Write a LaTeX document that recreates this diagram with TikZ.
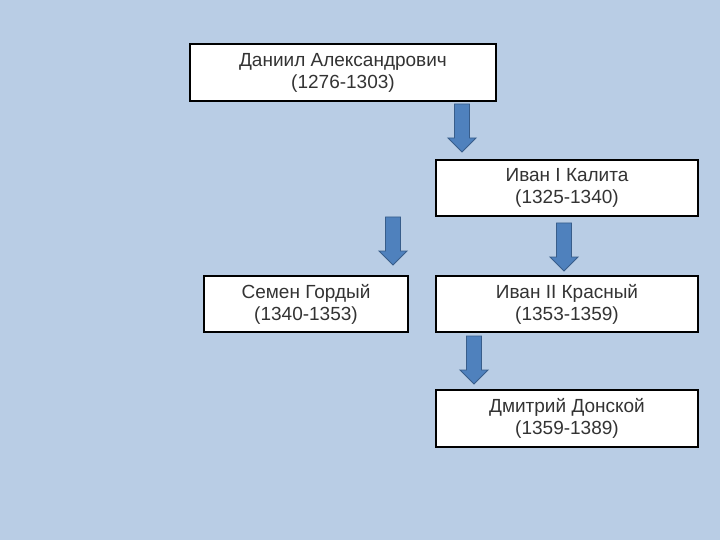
\documentclass[tikz,border=0pt]{standalone}
\usepackage{fontspec}
\setmainfont{Liberation Sans}
\definecolor{bgblue}{HTML}{B9CDE5}
\definecolor{arrfill}{HTML}{4F81BD}
\definecolor{arrline}{HTML}{385D8A}
\tikzset{
  person/.style={draw=black, line width=1.2pt, fill=white, inner sep=0pt,
    align=center, font=\fontsize{19}{22}\selectfont, text=black!80},
  blockarrow/.style={fill=arrfill, draw=arrline, line width=0.9pt, line join=miter}
}
\newcommand{\blkarrow}[3]{% center x, top y, tip y
  \path[blockarrow] (#1-7.5,#2) -- (#1+7.5,#2) -- (#1+7.5,#3-14) -- (#1+14,#3-14)
    -- (#1,#3) -- (#1-14,#3-14) -- (#1-7.5,#3-14) -- cycle;}
\begin{document}
\begin{tikzpicture}[x=1pt,y=-1pt]
\fill[bgblue] (0,0) rectangle (720,540);
\useasboundingbox (0,0) rectangle (720,540);
\node[person, minimum width=306pt, minimum height=57pt] (daniil) at (343,72.5)
  {Даниил Александрович\\(1276-1303)};
\node[person, minimum width=262pt, minimum height=56pt] (ivan1) at (567,188)
  {Иван I Калита\\(1325-1340)};
\node[person, minimum width=204pt, minimum height=56pt] (semen) at (306,304)
  {Семен Гордый\\(1340-1353)};
\node[person, minimum width=262pt, minimum height=56pt] (ivan2) at (567,304)
  {Иван II Красный\\(1353-1359)};
\node[person, minimum width=262pt, minimum height=57pt] (dmitry) at (567,418.5)
  {Дмитрий Донской\\(1359-1389)};
\blkarrow{462}{104}{152}
\blkarrow{393}{217}{265}
\blkarrow{564}{223}{271}
\blkarrow{474}{336}{384}
\end{tikzpicture}
\end{document}
